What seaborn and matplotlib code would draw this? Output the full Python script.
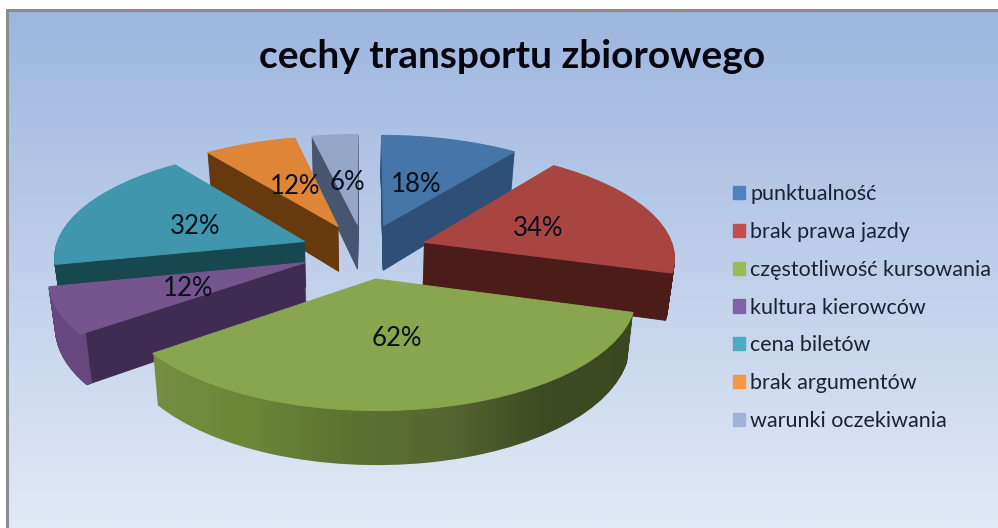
import matplotlib
matplotlib.use('Agg')
import numpy as np
import seaborn as sns
import matplotlib.pyplot as plt
import matplotlib.patches as mpatches
from matplotlib.path import Path
from matplotlib.transforms import Transform

categories = ['punktualność', 'brak prawa jazdy', 'częstotliwość kursowania',
              'kultura kierowców', 'cena biletów', 'brak argumentów', 'warunki oczekiwania']
values = [18, 34, 62, 12, 32, 12, 6]
title = 'cechy transportu zbiorowego'

top_colors = ['#4675a8', '#a84541', '#87a64d', '#76558f', '#3f96ad', '#df8538', '#94a7c9']
wall_colors = ['#2e5078', '#4b1c18', '#3e4f20', '#3f2c52', '#17474f', '#66390f', '#465670']
# only the purple slice shows its outer rim as a separate face
rim_colors = [None, None, None, '#66487f', None, None, None]
legend_colors = ['#4f81bd', '#c0504d', '#9bbb59', '#8064a2', '#4bacc6', '#f79646', '#a0b3d6']

# pixel positions of the percent labels
label_xy = [(416, 184), (538, 229), (397, 339), (188, 288), (195, 226), (295, 187), (347, 182)]

# projection of the flat pie, fitted on the picture
CX, CY, TILT, PERSP, SHRINK = 364, 251, 0.43, 0.0005, 0.022
RADIUS, EXPLODE, DEPTH = 250, 64, 46
draw_order = [6, 0, 5, 4, 1, 3, 2]


class Projection(Transform):
    input_dims = 2
    output_dims = 2
    is_separable = False

    def __init__(self, z=0):
        super().__init__()
        self.z = z

    def transform_non_affine(self, xy):
        xy = np.asarray(xy)
        s = 1 / (1 + PERSP * xy[:, 1])
        px = CX + xy[:, 0] * s * (1 - SHRINK * self.z / DEPTH)
        py = CY - TILT * xy[:, 1] * s + self.z * s
        return np.column_stack([px, py])


def draw_slice(ax, i, z, color, width=None):
    props = {'linewidth': 0.7, 'edgecolor': color}
    if width:
        props['width'] = width
    wedges, _ = ax.pie(values, explode=[EXPLODE] * len(values), radius=RADIUS, startangle=90,
                       counterclock=False, colors=[color] * len(values), wedgeprops=props)
    for j, w in enumerate(wedges):
        if j != i:
            w.remove()
    wedge = wedges[i]
    wedge.set_transform(Projection(z) + ax.transData)
    wedge.set_clip_on(False)
    return wedge


sns.set_theme(style='white')
plt.rcParams['font.family'] = ['Lato', 'DejaVu Sans']

fig = plt.figure(figsize=(9.98, 5.28), dpi=100, facecolor='white')
ax = fig.add_axes([0, 0, 1, 1])

# panel background
bg = sns.blend_palette(['#9db6e0', '#e2e9f5'], 64)
ax.imshow(np.array(bg)[:, None, :], extent=(8, 998, 528, 10), aspect='auto',
          interpolation='bilinear', zorder=0)
ax.plot([7, 7, 998], [528, 9.5, 9.5], color='#8c8c8c', lw=2.2, zorder=1)

layers = np.arange(DEPTH, 0, -1)
for i in draw_order:
    if categories[i] == 'częstotliwość kursowania':
        # rim of the big slice has a shaded gradient
        wedges = [draw_slice(ax, i, z, 'none') for z in layers]
        paths = [Projection(z).transform_path(w.get_path()) for z, w in zip(layers, wedges)]
        shade = sns.blend_palette(['#768f42', '#6d8739', '#5c7332', '#566630', '#3d4a22', '#3a4720'], 128)
        im = ax.imshow(np.array(shade)[None, :, :], extent=(140, 650, 480, 280), aspect='auto',
                       interpolation='bilinear', zorder=2)
        im.set_clip_path(Path.make_compound_path(*paths), transform=ax.transData)
    else:
        for z in layers:
            draw_slice(ax, i, z, wall_colors[i]).set_zorder(2)
        if rim_colors[i]:
            for z in layers:
                draw_slice(ax, i, z, rim_colors[i], width=5).set_zorder(2)
    draw_slice(ax, i, 0, top_colors[i]).set_zorder(2)

for v, (x, y) in zip(values, label_xy):
    ax.text(x, y, f'{v}%', fontsize=18.5, color='#0a0f1e', ha='center', va='center', zorder=5)

ax.text(512, 56, title, fontsize=28, fontweight='bold', color='#05070f',
        ha='center', va='center', zorder=5)

handles = [mpatches.Patch(color=c, label=n) for c, n in zip(sns.color_palette(legend_colors), categories)]
ax.legend(handles=handles, loc='upper left', bbox_to_anchor=(733 / 998, 1 - 184 / 528),
          frameon=False, fontsize=15.5, labelspacing=0.83, handlelength=0.56, handleheight=0.56,
          handletextpad=0.25, borderpad=0, borderaxespad=0, labelcolor='#1a2233')

ax.set_aspect('auto')
ax.set_xlim(0, 998)
ax.set_ylim(528, 0)
ax.set_axis_off()

fig.savefig('out.png', dpi=100, facecolor='white')
